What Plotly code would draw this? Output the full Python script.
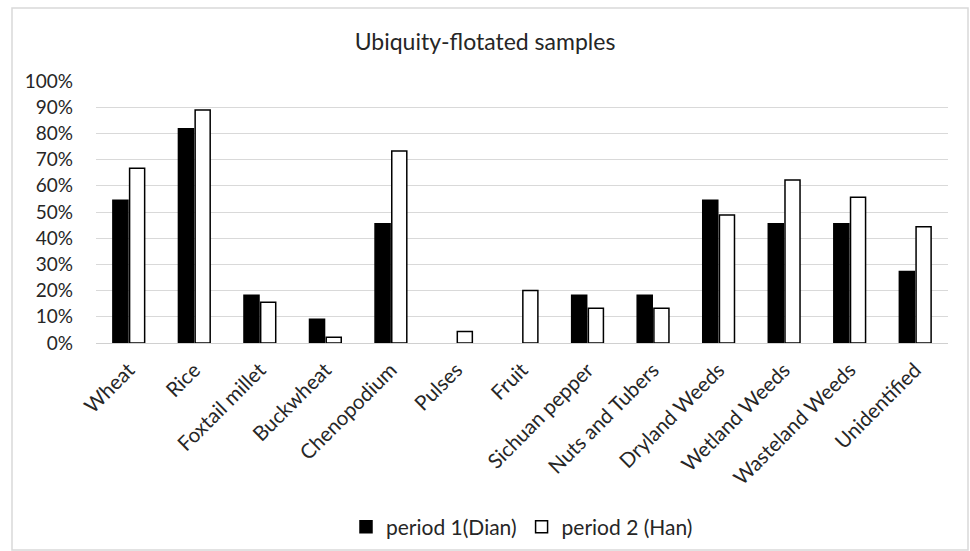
import plotly.graph_objects as go

categories = ["Wheat", "Rice", "Foxtail millet", "Buckwheat", "Chenopodium", "Pulses",
              "Fruit", "Sichuan pepper", "Nuts and Tubers", "Dryland Weeds",
              "Wetland Weeds", "Wasteland Weeds", "Unidentified"]
period1 = [0.545, 0.818, 0.182, 0.091, 0.455, 0.0, 0.0, 0.182, 0.182, 0.545, 0.455, 0.455, 0.273]
period2 = [0.667, 0.889, 0.156, 0.022, 0.733, 0.044, 0.200, 0.133, 0.133, 0.489, 0.622, 0.556, 0.444]
series_names = ["period 1(Dian)", "period 2 (Han)"]
yticks = [i / 10 for i in range(11)]

FONT = "Lato, 'Open Sans', sans-serif"

def outline(vals):
    return [1.5 if v > 0 else 0 for v in vals]

fig = go.Figure()
fig.add_trace(go.Bar(x=categories, y=period1, name=series_names[0],
                     marker=dict(color="black", line=dict(color="black", width=outline(period1)))))
fig.add_trace(go.Bar(x=categories, y=period2, name=series_names[1],
                     marker=dict(color="white", line=dict(color="black", width=outline(period2)))))

W, H = 970, 551
L, R, T, B = 96, 22, 81, 208
pw, ph = W - L - R, H - T - B

def px2paper_x(x):
    return (x - L) / pw

def px2paper_y(y):
    return (H - B - y) / ph

fig.update_layout(
    width=W, height=H,
    margin=dict(l=L, r=R, t=T, b=B, autoexpand=False),
    paper_bgcolor="white", plot_bgcolor="white",
    font=dict(family=FONT, color="#404040", size=18),
    title=dict(text="Ubiquity-flotated samples", x=0.5, xanchor="center",
               y=1 - 42 / H, yanchor="middle",
               font=dict(size=23, color="#262626", family=FONT)),
    barmode="group", bargap=0.49, bargroupgap=0.1,
    showlegend=True,
    legend=dict(orientation="h", x=0.5, xanchor="center",
                y=px2paper_y(527), yanchor="middle",
                font=dict(size=21, color="#262626", family=FONT),
                itemwidth=30, traceorder="normal"),
    xaxis=dict(tickangle=-45, showgrid=False, showline=True, linecolor="#d0d0d0",
               linewidth=1, ticks="", tickfont=dict(size=20.5, color="#262626"),
               ticklabelstandoff=6, fixedrange=True),
    yaxis=dict(range=[0, 1.0], tickvals=yticks, tickformat=".0%",
               showgrid=True, gridcolor="#d9d9d9", gridwidth=1,
               zeroline=False, showline=False, ticks="",
               tickfont=dict(size=19, color="#262626"), ticklabelstandoff=22),
    shapes=[dict(type="rect", xref="paper", yref="paper",
                 x0=px2paper_x(12), x1=px2paper_x(968),
                 y0=px2paper_y(550), y1=px2paper_y(8),
                 line=dict(color="#d9d9d9", width=1.5), fillcolor="rgba(0,0,0,0)",
                 layer="below")],
)

fig.write_html("out.html", config={"displayModeBar": False},
               post_script="document.body.style.margin='0';")
